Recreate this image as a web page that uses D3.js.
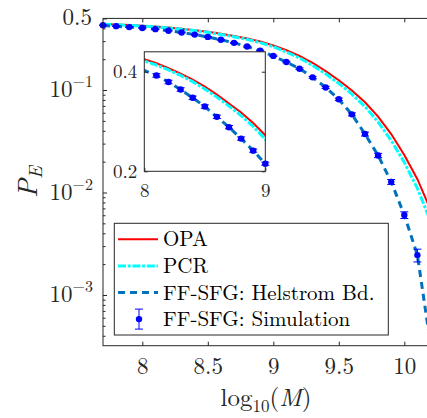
<!DOCTYPE html>
<html>
<head>
<meta charset="utf-8">
<script src="https://cdn.jsdelivr.net/npm/d3@7"></script>
<style>
  body { margin: 0; background: #fff; }
  svg { display: block; font-family: "Latin Modern Roman", "CMU Serif", "Liberation Serif", serif; }
</style>
</head>
<body>
<div id="chart"></div>
<script>

// log10(M) grid for the OPA / PCR curves
var logM = [7.7, 7.8, 7.9, 8.0, 8.1, 8.2, 8.3, 8.4, 8.5, 8.6, 8.7, 8.8, 8.9,
            9.0, 9.1, 9.2, 9.3, 9.4, 9.5, 9.6, 9.7, 9.8, 9.9, 10.0, 10.1, 10.2];
var peOPA = [0.441, 0.436, 0.431, 0.425, 0.417, 0.407, 0.396, 0.384, 0.370, 0.354, 0.336, 0.318, 0.297,
             0.2723, 0.2443, 0.2148, 0.1841, 0.1531, 0.1245, 0.0989, 0.0759, 0.0550, 0.0372, 0.0232, 0.0135, 0.0068];
var pePCR = [0.438, 0.433, 0.4275, 0.4215, 0.4135, 0.4035, 0.3925, 0.380, 0.3655, 0.349, 0.331, 0.312, 0.290,
             0.2645, 0.2350, 0.2051, 0.1742, 0.1439, 0.1161, 0.0913, 0.0689, 0.0489, 0.0322, 0.0197, 0.01096, 0.00527];

// FF-SFG Helstrom bound
var logMHel = [7.7, 7.8, 7.9, 8.0, 8.1, 8.2, 8.3, 8.4, 8.5, 8.6, 8.7, 8.8, 8.9,
               9.0, 9.1, 9.2, 9.3, 9.4, 9.5, 9.6, 9.7, 9.8, 9.9, 10.0, 10.1, 10.15, 10.2];
var peHel = [0.426, 0.419, 0.411, 0.4026, 0.3925, 0.3793, 0.3643, 0.3476, 0.330, 0.3094, 0.2886, 0.2657, 0.2415,
             0.2153, 0.1875, 0.1615, 0.133, 0.106, 0.0812, 0.0579, 0.0372, 0.0230, 0.0127, 0.00603, 0.00245, 0.00090, 0.00033];

// FF-SFG simulation (mean and error half-width)
var logMSim = [7.7, 7.8, 7.9, 8.0, 8.1, 8.2, 8.3, 8.4, 8.5, 8.6, 8.7, 8.8, 8.9,
               9.0, 9.1, 9.2, 9.3, 9.4, 9.5, 9.6, 9.7, 9.8, 9.9, 10.0, 10.1];
var peSim = [0.428, 0.420, 0.411, 0.4026, 0.3925, 0.3793, 0.3643, 0.3476, 0.330, 0.3094, 0.2886, 0.2657, 0.2415,
             0.2153, 0.1875, 0.1615, 0.133, 0.106, 0.0812, 0.0579, 0.0372, 0.0230, 0.0127, 0.00603, 0.00245];
var errSim = [0.0035, 0.0035, 0.0035, 0.0035, 0.0035, 0.0035, 0.0035, 0.0035, 0.0034, 0.0034, 0.0033, 0.0033, 0.0032,
              0.0031, 0.003, 0.003, 0.0028, 0.0025, 0.0022, 0.0019, 0.0016, 0.0011, 0.0007, 0.00045, 0.00035];

var xTicks = [8, 8.5, 9, 9.5, 10];
var yDecades = [1e-3, 1e-2, 1e-1];
var yTopTick = 0.5;
var insetXTicks = [8, 9];
var insetYTicks = [0.2, 0.4];
var legendNames = ["OPA", "PCR", "FF-SFG: Helstrom Bd.", "FF-SFG: Simulation"];

var width = 427, height = 418;
var axisColor = "#262626";
var fontFam = '"Latin Modern Roman", "CMU Serif", "Liberation Serif", serif';
var pLeft = 103, pRight = 430.5, pTop = 18.4, pBottom = 345.7;

var svg = d3.select("#chart").append("svg")
    .attr("width", width)
    .attr("height", height);

var defs = svg.append("defs");

/* Scales */
var xScale = d3.scaleLinear().domain([7.7, 10.2]).range([pLeft, pRight]);
var yScale = d3.scaleLog().domain([3.2e-4, 0.5]).range([pBottom, pTop]);

var series = [
    {x: logM, y: peOPA, color: "#ff0000", w: 2, dash: null},
    {x: logM, y: pePCR, color: "#00ffff", w: 3, dash: "8,1.7,3,1.7"},
    {x: logMHel, y: peHel, color: "#0072bd", w: 3, dash: "7,5"}
];

var drawCurves = (g, xs, ys, clipId, xMin, xMax) => {
    var line = d3.line()
        .x(d => xs(d[0]))
        .y(d => ys(d[1]));

    var lines = g.append("g").attr("clip-path", `url(#${clipId})`);
    series.forEach(s => {
        lines.append("path")
            .datum(d3.zip(s.x, s.y))
            .attr("d", line)
            .attr("fill", "none")
            .attr("stroke", s.color)
            .attr("stroke-width", s.w)
            .attr("stroke-dasharray", s.dash);
    });

    var sim = d3.zip(logMSim, peSim, errSim).filter(d => d[0] > xMin && d[0] <= xMax);
    var pts = g.append("g").attr("class", "sim");
    var eb = pts.selectAll("g").data(sim).enter().append("g")
        .attr("stroke", "#0000ff")
        .attr("stroke-width", 1);
    eb.append("line")
        .attr("x1", d => xs(d[0])).attr("x2", d => xs(d[0]))
        .attr("y1", d => ys(d[1] - d[2])).attr("y2", d => ys(d[1] + d[2]));
    eb.append("line")
        .attr("x1", d => xs(d[0]) - 4).attr("x2", d => xs(d[0]) + 4)
        .attr("y1", d => ys(d[1] - d[2])).attr("y2", d => ys(d[1] - d[2]));
    eb.append("line")
        .attr("x1", d => xs(d[0]) - 4).attr("x2", d => xs(d[0]) + 4)
        .attr("y1", d => ys(d[1] + d[2])).attr("y2", d => ys(d[1] + d[2]));
    pts.selectAll("circle").data(sim).enter().append("circle")
        .attr("cx", d => xs(d[0]))
        .attr("cy", d => ys(d[1]))
        .attr("r", 3.2)
        .attr("fill", "#0000ff");
};

/* Main plot */
defs.append("clipPath").attr("id", "clipMain")
    .append("rect").attr("x", pLeft).attr("y", pTop)
    .attr("width", pRight - pLeft).attr("height", pBottom - pTop);

var main = svg.append("g");
drawCurves(main, xScale, yScale, "clipMain", 7.6, 10.2);

// Box
main.append("rect")
    .attr("x", pLeft).attr("y", pTop)
    .attr("width", pRight - pLeft).attr("height", pBottom - pTop)
    .attr("fill", "none").attr("stroke", axisColor).attr("stroke-width", 1);

// x axes (ticks inward)
main.append("g")
    .attr("transform", `translate(0,${pBottom})`)
    .call(d3.axisBottom(xScale).tickValues(xTicks).tickSize(-4).tickPadding(12).tickFormat(d3.format("")));
main.append("g")
    .attr("transform", `translate(0,${pTop})`)
    .call(d3.axisTop(xScale).tickValues(xTicks).tickSize(-4).tickFormat(""));

// y axis major + minor
var minorTicks = yScale.ticks().filter(v => yDecades.indexOf(v) < 0 && v < 0.5);
main.append("g")
    .attr("transform", `translate(${pLeft},0)`)
    .call(d3.axisLeft(yScale).tickValues(yDecades.concat([yTopTick])).tickSize(-4).tickFormat(""));
main.append("g")
    .attr("transform", `translate(${pLeft},0)`)
    .call(d3.axisLeft(yScale).tickValues(minorTicks).tickSize(-2.5).tickFormat(""));

main.selectAll(".domain").remove();
main.selectAll(".tick line").attr("stroke", axisColor);
main.selectAll(".tick text")
    .attr("fill", axisColor)
    .style("font-size", "23px")
    .style("font-family", fontFam);

// y tick labels
var yLab = main.append("g").attr("fill", axisColor).attr("text-anchor", "end");
yDecades.forEach(v => {
    var t = yLab.append("text")
        .attr("x", 93).attr("y", yScale(v) + 7)
        .style("font-size", "23px");
    t.append("tspan").text("10");
    t.append("tspan").attr("dy", -10).style("font-size", "16px")
        .text("\u2212" + Math.round(-Math.log10(v)));
});
yLab.append("text")
    .attr("x", 92).attr("y", yScale(yTopTick) + 7)
    .style("font-size", "23px")
    .text("0.5");

// axis titles
var xTitle = svg.append("text")
    .attr("x", 266).attr("y", 406)
    .attr("text-anchor", "middle")
    .attr("fill", axisColor)
    .style("font-size", "25px");
xTitle.append("tspan").text("log");
xTitle.append("tspan").attr("dy", 6).style("font-size", "17px").text("10");
xTitle.append("tspan").attr("dy", -6).text("(");
xTitle.append("tspan").style("font-style", "italic").text("M");
xTitle.append("tspan").text(")");

var yTitle = svg.append("text")
    .attr("transform", `translate(37,${(pTop + pBottom) / 2}) rotate(-90)`)
    .attr("text-anchor", "middle")
    .attr("fill", axisColor)
    .style("font-size", "28px")
    .style("font-style", "italic");
yTitle.append("tspan").text("P");
yTitle.append("tspan").attr("dy", 5).style("font-size", "19px").text("E");

/* Inset */
var iLeft = 144.3, iRight = 265.3, iTop = 51.8, iBottom = 171.3;
var xInset = d3.scaleLinear().domain([8, 9]).range([iLeft, iRight]);
var yInset = d3.scaleLinear().domain([0.2, 0.44]).range([iBottom, iTop]);

defs.append("clipPath").attr("id", "clipInset")
    .append("rect").attr("x", iLeft).attr("y", iTop)
    .attr("width", iRight - iLeft).attr("height", iBottom - iTop);

var inset = svg.append("g");
inset.append("rect")
    .attr("x", iLeft).attr("y", iTop)
    .attr("width", iRight - iLeft).attr("height", iBottom - iTop)
    .attr("fill", "#fff");
drawCurves(inset, xInset, yInset, "clipInset", 8.0, 9.0);
inset.append("rect")
    .attr("x", iLeft).attr("y", iTop)
    .attr("width", iRight - iLeft).attr("height", iBottom - iTop)
    .attr("fill", "none").attr("stroke", axisColor).attr("stroke-width", 1);

inset.append("g")
    .attr("transform", `translate(${iLeft},0)`)
    .call(d3.axisLeft(yInset).tickValues(insetYTicks).tickSize(-3.5).tickPadding(7).tickFormat(d3.format(".1f")));
inset.append("g")
    .attr("transform", `translate(${iRight},0)`)
    .call(d3.axisRight(yInset).tickValues(insetYTicks).tickSize(-3.5).tickFormat(""));
inset.append("g")
    .attr("transform", `translate(0,${iBottom})`)
    .call(d3.axisBottom(xInset).tickValues(insetXTicks).tickSize(-3.5).tickPadding(12).tickFormat(d3.format("")));
inset.selectAll(".domain").remove();
inset.selectAll(".tick line").attr("stroke", axisColor);
inset.selectAll(".tick text")
    .attr("fill", axisColor)
    .style("font-size", "19px")
    .style("font-family", fontFam);

/* Legend */
var lg = svg.append("g");
lg.append("rect")
    .attr("x", 114.3).attr("y", 223.3)
    .attr("width", 274).attr("height", 111.7)
    .attr("fill", "#fff").attr("stroke", axisColor).attr("stroke-width", 1);

var rowY = i => 239.3 + i * 26.6;
series.forEach((s, i) => {
    lg.append("line")
        .attr("x1", 118).attr("x2", 158)
        .attr("y1", rowY(i)).attr("y2", rowY(i))
        .attr("stroke", s.color)
        .attr("stroke-width", s.w)
        .attr("stroke-dasharray", s.dash);
});
var ly = rowY(3);
var lgSim = lg.append("g").attr("stroke", "#0000ff").attr("stroke-width", 1);
lgSim.append("line").attr("x1", 139).attr("x2", 139).attr("y1", ly - 10).attr("y2", ly + 10);
lgSim.append("line").attr("x1", 135).attr("x2", 143).attr("y1", ly - 10).attr("y2", ly - 10);
lgSim.append("line").attr("x1", 135).attr("x2", 143).attr("y1", ly + 10).attr("y2", ly + 10);
lg.append("circle").attr("cx", 139).attr("cy", ly).attr("r", 3.2).attr("fill", "#0000ff");

lg.selectAll("text.lab")
    .data(legendNames).enter()
    .append("text")
    .attr("class", "lab")
    .attr("x", 163)
    .attr("y", (d, i) => rowY(i) + 7)
    .attr("fill", "#000")
    .style("font-size", "21px")
    .text(d => d);

</script>
</body>
</html>
